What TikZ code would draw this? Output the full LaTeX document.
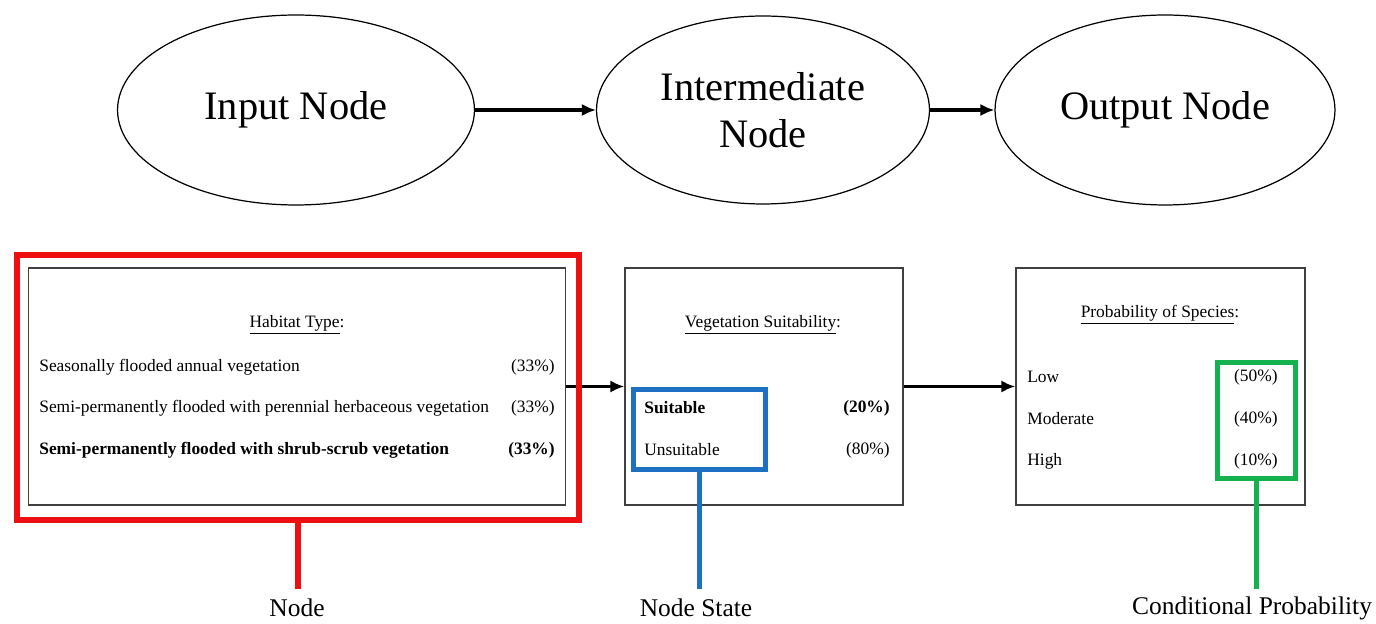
\documentclass[tikz,border=0pt]{standalone}
\usepackage{fontspec}
\setmainfont{Liberation Serif}
\usetikzlibrary{shapes.geometric,arrows.meta}

\definecolor{nodered}{RGB}{238,16,16}
\definecolor{stateblue}{RGB}{30,112,192}
\definecolor{probgreen}{RGB}{20,178,78}

\newcommand\bigtextstyle{\fontsize{23}{27}\selectfont}
\newcommand\boxtextstyle{\fontsize{9.9}{12}\selectfont}
\newcommand\calloutstyle{\fontsize{14.5}{17}\selectfont}

\tikzset{
  bnode/.style={ellipse, draw, line width=0.7pt, minimum height=3.8cm, align=center, font=\bigtextstyle},
  cptbox/.style={draw=black!75, line width=0.8pt, minimum height=4.74cm},
  flowarrow/.style={line width=1.8pt, -{Latex[length=8pt,width=7pt]}},
  boxline/.style={inner sep=0pt, font=\boxtextstyle},
  callout/.style={line width=3pt},
  calloutlabel/.style={inner sep=1pt, font=\calloutstyle}
}

\begin{document}
\begin{tikzpicture}[x=0.02cm, y=-0.02cm]
    \useasboundingbox (0, 0) rectangle (1376, 624) ;
    \node[bnode, minimum width=7.14cm] (input) at (296, 110) {Input Node} ;
    \node[bnode, minimum width=6.66cm, minimum height=3.76cm] (inter) at (763, 110) {Intermediate\\Node} ;
    \node[bnode, minimum width=6.8cm] (output) at (1165, 110) {Output Node} ;
    \draw[flowarrow] (input) -- (inter) ;
    \draw[flowarrow] (inter) -- (output) ;

    \node[cptbox, minimum width=10.75cm] (habitat) at (297, 386.5) {} ;
    \node[cptbox, minimum width=5.56cm] (suit) at (764, 386.5) {} ;
    \node[cptbox, minimum width=5.78cm] (species) at (1160.5, 386.5) {} ;
    \draw[flowarrow] (habitat) -- (suit) ;
    \draw[flowarrow] (suit) -- (species) ;

    \node[boxline] (habtitle) at (297, 325) {\underline{Habitat Type}:} ;
    \node[boxline, anchor=west] (habA) at (39, 367) {Seasonally flooded annual vegetation} ;
    \node[boxline, anchor=east] (habApct) at (555, 367) {(33\%)} ;
    \node[boxline, anchor=west] (habB) at (39, 408) {Semi-permanently flooded with perennial herbaceous vegetation} ;
    \node[boxline, anchor=east] (habBpct) at (555, 408) {(33\%)} ;
    \node[boxline, anchor=west] (habC) at (39, 450) {\bfseries Semi-permanently flooded with shrub-scrub vegetation} ;
    \node[boxline, anchor=east] (habCpct) at (555, 450) {\bfseries (33\%)} ;

    \node[boxline] (suittitle) at (763, 325) {\underline{Vegetation Suitability}:} ;
    \node[boxline, anchor=west] (suitA) at (644, 408) {\bfseries Suitable} ;
    \node[boxline, anchor=east] (suitApct) at (890, 408) {\bfseries (20\%)} ;
    \node[boxline, anchor=west] (suitB) at (644, 450) {Unsuitable} ;
    \node[boxline, anchor=east] (suitBpct) at (890, 450) {(80\%)} ;

    \node[boxline] (spectitle) at (1160, 315) {\underline{Probability of Species}:} ;
    \node[boxline, anchor=west] (specA) at (1027, 377) {Low} ;
    \node[boxline, anchor=east] (specApct) at (1278, 377) {(50\%)} ;
    \node[boxline, anchor=west] (specB) at (1027, 419) {Moderate} ;
    \node[boxline, anchor=east] (specBpct) at (1278, 419) {(40\%)} ;
    \node[boxline, anchor=west] (specC) at (1027, 461) {High} ;
    \node[boxline, anchor=east] (specCpct) at (1278, 461) {(10\%)} ;

    \node[draw=nodered, line width=3.4pt, minimum width=11.24cm, minimum height=5.3cm] (redframe) at (298, 387.5) {} ;
    \node[draw=stateblue, line width=2.8pt, minimum width=2.64cm, minimum height=1.6cm] (blueframe) at (699.5, 429.5) {} ;
    \node[draw=probgreen, line width=2.8pt, minimum width=1.56cm, minimum height=2.32cm] (greenframe) at (1256.5, 420.5) {} ;

    \node[calloutlabel] (nodelabel) at (297, 608) {Node} ;
    \node[calloutlabel] (statelabel) at (696, 608) {Node State} ;
    \node[calloutlabel] (problabel) at (1252, 608) {Conditional Probability} ;
    \coordinate (nodeend) at (298, 589) ;
    \coordinate (stateend) at (699.5, 589) ;
    \coordinate (probend) at (1256.5, 589) ;
    \draw[callout, nodered] (redframe.south) -- (nodeend) ;
    \draw[callout, stateblue] (blueframe.south) -- (stateend) ;
    \draw[callout, probgreen] (greenframe.south) -- (probend) ;
  \end{tikzpicture}
\end{document}
